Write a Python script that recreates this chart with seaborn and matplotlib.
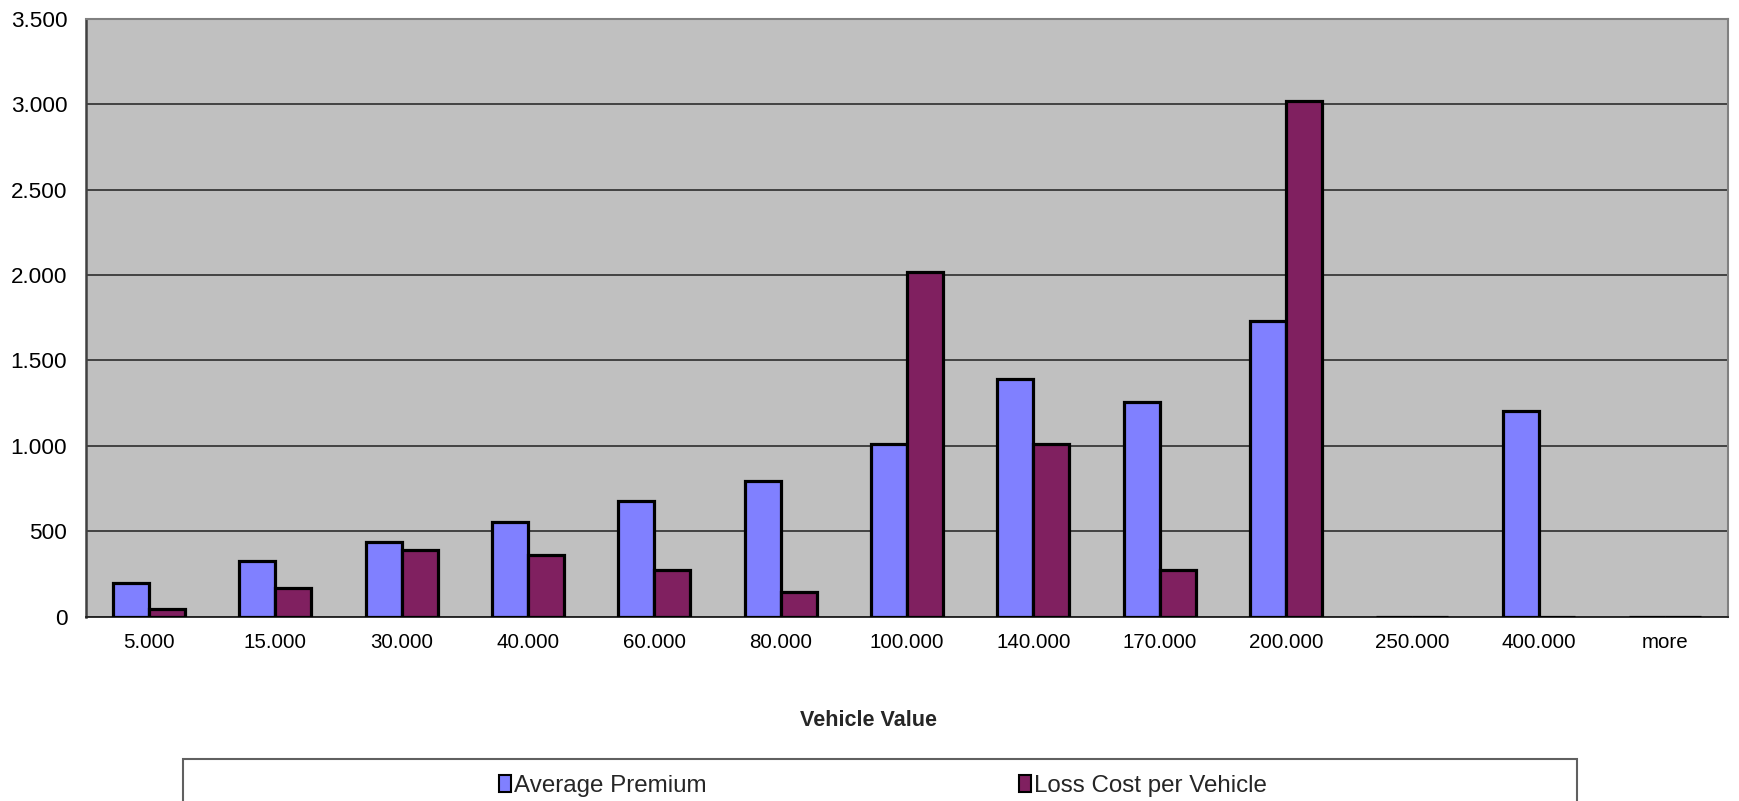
import matplotlib
matplotlib.use("Agg")
import matplotlib.pyplot as plt
import seaborn as sns
import pandas as pd
from matplotlib.ticker import FuncFormatter, MultipleLocator, FixedLocator
from matplotlib.patches import Rectangle, Patch

# Vehicle value bands and the two series per band
vehicle_values = ["5.000", "15.000", "30.000", "40.000", "60.000", "80.000",
                  "100.000", "140.000", "170.000", "200.000", "250.000",
                  "400.000", "more"]
average_premium = [195, 325, 435, 552, 675, 792, 1013, 1390, 1257, 1731, 0, 1206, 0]
loss_cost_per_vehicle = [45, 169, 389, 363, 273, 143, 2016, 1011, 272, 3021, 0, 0, 0]
series_names = ["Average Premium", "Loss Cost per Vehicle"]
series_colors = ["#8080FF", "#802060"]

df = pd.DataFrame({
    "band": vehicle_values * 2,
    "value": average_premium + loss_cost_per_vehicle,
    "series": [series_names[0]] * len(vehicle_values) + [series_names[1]] * len(vehicle_values),
})

sns.set_style("white")
plt.rcParams["font.family"] = ["Liberation Sans", "DejaVu Sans"]

W, H = 1739, 801
fig = plt.figure(figsize=(W / 100, H / 100), dpi=100)
fig.patch.set_facecolor("white")

left, right, top, bottom = 86, 1728, 19, 616.6
ax = fig.add_axes([left / W, 1 - bottom / H, (right - left) / W, (bottom - top) / H])
ax.set_facecolor("#C0C0C0")

sns.barplot(data=df, x="band", y="value", hue="series", order=vehicle_values,
            hue_order=series_names, palette=series_colors, width=0.57,
            edgecolor="black", linewidth=2.3, saturation=1, ax=ax, legend=False,
            zorder=3)

ax.set_ylim(0, 3500)
ax.set_xlim(-0.5, len(vehicle_values) - 0.5)
ax.yaxis.set_major_locator(MultipleLocator(500))
ax.yaxis.set_major_formatter(FuncFormatter(lambda v, p: f"{int(v):,}".replace(",", ".")))
ax.grid(axis="y", color="#202020", linewidth=1.1, zorder=1)
ax.set_axisbelow(True)

# category boundaries carry the x tick marks; labels sit at the centres
ax.set_xticks(range(len(vehicle_values)))
ax.set_xticklabels(vehicle_values)
ax.xaxis.set_minor_locator(FixedLocator([i - 0.5 for i in range(len(vehicle_values) + 1)]))
ax.tick_params(axis="x", which="major", length=0, pad=12, labelsize=14.8, colors="black")
ax.tick_params(axis="x", which="minor", length=4.5, width=1.2, color="black", direction="out")
ax.tick_params(axis="y", which="major", length=4.5, width=1.2, color="#404040",
               direction="out", pad=9, labelsize=16.2, labelcolor="black")

for side in ["top", "right"]:
    ax.spines[side].set_color("#808080")
    ax.spines[side].set_linewidth(1.5)
ax.spines["left"].set_color("#404040")
ax.spines["left"].set_linewidth(1.8)
ax.spines["bottom"].set_color("#202020")
ax.spines["bottom"].set_linewidth(1.3)

ax.set_xlabel("")
ax.set_ylabel("")
fig.text(869 / W, 1 - 721 / H, "Vehicle Value", ha="center", va="center",
         fontsize=15.5, fontweight="bold")

# legend box along the bottom edge
fig.patches.append(Rectangle((183 / W, -0.05), (1577 - 183) / W, (801 - 759) / H + 0.05,
                             transform=fig.transFigure, facecolor="white",
                             edgecolor="#606060", linewidth=1.5, zorder=0))
handles = [Patch(facecolor=c, edgecolor="black", linewidth=1.5) for c in series_colors]
fig.legend(handles, series_names, loc="center", bbox_to_anchor=(883 / W, 1 - 786 / H),
           ncol=2, frameon=False, fontsize=17.4, handlelength=0.5, handleheight=0.7,
           handletextpad=0.15, columnspacing=12.9)

fig.savefig("out.png", dpi=100)
